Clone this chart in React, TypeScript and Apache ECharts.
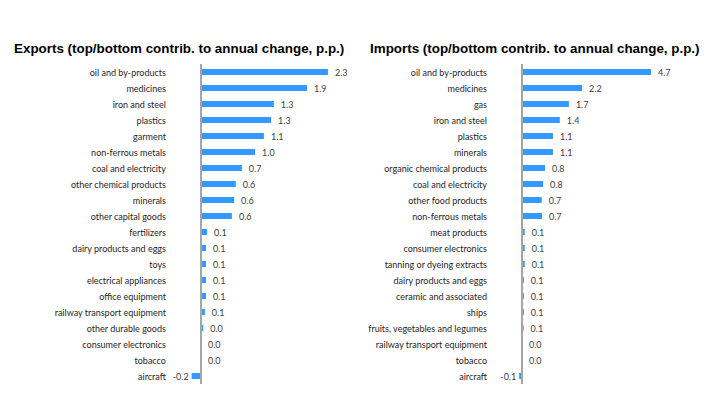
import React, { useEffect, useRef } from "react";
import * as echarts from "echarts";

const exportCategories = [
  "oil and by-products",
  "medicines",
  "iron and steel",
  "plastics",
  "garment",
  "non-ferrous metals",
  "coal and electricity",
  "other chemical products",
  "minerals",
  "other capital goods",
  "fertilizers",
  "dairy products and eggs",
  "toys",
  "electrical appliances",
  "office equipment",
  "railway transport equipment",
  "other durable goods",
  "consumer electronics",
  "tobacco",
  "aircraft",
];
const exportValues = [2.3, 1.92, 1.32, 1.27, 1.14, 0.98, 0.74, 0.63, 0.6, 0.56, 0.11, 0.09, 0.09, 0.09, 0.09, 0.07, 0.04, 0.0, 0.0, -0.17];

const importCategories = [
  "oil and by-products",
  "medicines",
  "gas",
  "iron and steel",
  "plastics",
  "minerals",
  "organic chemical products",
  "coal and electricity",
  "other food products",
  "non-ferrous metals",
  "meat products",
  "consumer electronics",
  "tanning or dyeing extracts",
  "dairy products and eggs",
  "ceramic and associated",
  "ships",
  "fruits, vegetables and legumes",
  "railway transport equipment",
  "tobacco",
  "aircraft",
];
const importValues = [4.7, 2.19, 1.71, 1.38, 1.13, 1.13, 0.84, 0.77, 0.72, 0.73, 0.1, 0.1, 0.1, 0.07, 0.07, 0.07, 0.06, 0.0, 0.0, -0.1];

const exportsTitle = "Exports (top/bottom contrib. to annual change, p.p.)";
const importsTitle = "Imports (top/bottom contrib. to annual change, p.p.)";

const BAR_COLOR = "#3399FF";
const LABEL_FONT = "'Liberation Sans Narrow', Lato, sans-serif";

function barData(values: number[]) {
  return values.map((v) => ({
    value: v,
    label: {
      show: true,
      position: v < 0 ? "left" : "right",
      distance: v < 0 ? 3 : 7,
      formatter: () => v.toFixed(1),
      color: "#404040",
      fontSize: 9,
      fontFamily: "Lato",
    },
  }));
}

export default function App() {
  const ref = useRef<HTMLDivElement>(null);
  useEffect(() => {
    if (!ref.current) return;
    const chart = echarts.init(ref.current, undefined, { renderer: "svg" });
    const yAxisCommon = {
      type: "category" as const,
      inverse: true,
      axisTick: { show: false },
      axisLine: { show: false, onZero: false },
      axisLabel: { color: "#262626", fontSize: 9, fontFamily: LABEL_FONT, margin: 7.5 },
      splitLine: { show: false },
    };
    const xAxisCommon = {
      type: "value" as const,
      show: false,
      splitLine: { show: false },
    };
    const zeroLine = {
      silent: true,
      symbol: ["none", "none"],
      label: { show: false },
      lineStyle: { color: "#A6A6A6", width: 2, type: "solid" as const },
      data: [{ xAxis: 0 }],
    };
    const titleStyle = { fontFamily: "Liberation Sans", fontWeight: "bold" as const, fontSize: 13.4, color: "#000" };
    chart.setOption({
      animation: false,
      title: [
        { text: exportsTitle, left: 14, top: 42, padding: 0, textStyle: titleStyle },
        { text: importsTitle, left: 370, top: 42, padding: 0, textStyle: titleStyle },
      ],
      grid: [
        { left: 173.4, width: 165.6, top: 64, height: 320 },
        { left: 494.5, width: 164.7, top: 64, height: 320 },
      ],
      xAxis: [
        { ...xAxisCommon, gridIndex: 0, min: -0.5, max: 2.5 },
        { ...xAxisCommon, gridIndex: 1, min: -1, max: 5 },
      ],
      yAxis: [
        { ...yAxisCommon, gridIndex: 0, data: exportCategories },
        { ...yAxisCommon, gridIndex: 1, data: importCategories },
      ],
      series: [
        {
          type: "bar",
          xAxisIndex: 0,
          yAxisIndex: 0,
          barWidth: 6,
          itemStyle: { color: BAR_COLOR },
          data: barData(exportValues),
          markLine: zeroLine,
        },
        {
          type: "bar",
          xAxisIndex: 1,
          yAxisIndex: 1,
          barWidth: 6,
          itemStyle: { color: BAR_COLOR },
          data: barData(importValues),
          markLine: zeroLine,
        },
      ],
    });
    return () => chart.dispose();
  }, []);
  return (
    <div
      ref={ref}
      style={{ position: "fixed", left: 0, top: 0, width: 707, height: 395, background: "#fff" }}
    />
  );
}
